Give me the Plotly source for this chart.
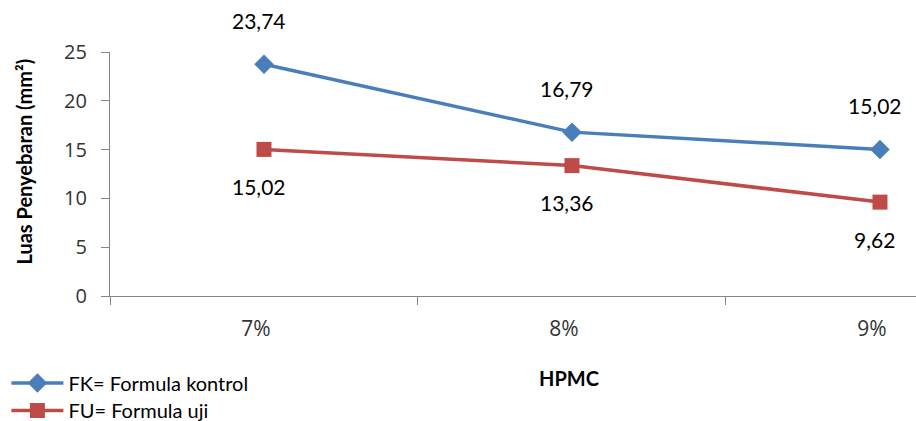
import plotly.graph_objects as go

# HPMC concentration levels and spreading area (mm^2)
categories = ["7%", "8%", "9%"]
fk_values = [23.74, 16.79, 15.02]   # FK = Formula kontrol
fu_values = [15.02, 13.36, 9.62]    # FU = Formula uji
y_ticks = [0, 5, 10, 15, 20, 25]

BLUE = "#4A7EBB"
RED = "#BE4B48"
AXIS = "#868686"
FONT = "Lato, 'Open Sans', sans-serif"
TICKFONT = "'Open Sans', sans-serif"


def fmt(v):
    return f"{v:.2f}".replace(".", ",")


fig = go.Figure()
fig.add_trace(go.Scatter(
    x=categories, y=fk_values, mode="lines+markers", name="FK= Formula kontrol",
    line=dict(color=BLUE, width=3.5),
    marker=dict(symbol="diamond", size=15, color=BLUE),
    legend="legend", cliponaxis=False,
))
fig.add_trace(go.Scatter(
    x=categories, y=fu_values, mode="lines+markers", name="FU= Formula uji",
    line=dict(color=RED, width=3.5),
    marker=dict(symbol="square", size=15, color=RED),
    legend="legend2", cliponaxis=False,
))

# value labels: control above its points, test formula below
for c, v in zip(categories, fk_values):
    fig.add_annotation(x=c, y=v, text=fmt(v), showarrow=False, yshift=44, xshift=-5,
                       font=dict(family=FONT, size=21, color="#000000"))
for c, v in zip(categories, fu_values):
    fig.add_annotation(x=c, y=v, text=fmt(v), showarrow=False, yshift=-37, xshift=-5,
                       font=dict(family=FONT, size=21, color="#000000"))

# axis titles
fig.add_annotation(xref="paper", yref="paper", x=-0.107, y=0.55, textangle=-90,
                   xanchor="center", yanchor="middle",
                   text="<b>Luas Penyebaran (mm²)</b>", showarrow=False,
                   font=dict(family=FONT, size=20, color="#000000"))
fig.add_annotation(xref="paper", yref="paper", x=0.569, y=-0.336,
                   xanchor="center", yanchor="middle",
                   text="<b>HPMC</b>", showarrow=False,
                   font=dict(family=FONT, size=20, color="#000000"))

legend_style = dict(xref="container", yref="container", xanchor="left", yanchor="middle",
                    itemwidth=52, font=dict(family=FONT, size=20, color="#000000"),
                    bgcolor="rgba(0,0,0,0)")

fig.update_layout(
    width=916, height=421,
    margin=dict(l=110, r=0, t=52, b=125, autoexpand=False),
    paper_bgcolor="white", plot_bgcolor="white",
    font=dict(family=FONT, color="#000000"),
    legend=dict(x=0.007, y=0.09, **legend_style),
    legend2=dict(x=0.007, y=0.025, **legend_style),
    showlegend=True,
)

fig.update_xaxes(
    type="category", categoryorder="array", categoryarray=categories,
    range=[-0.5, 2.117], tickson="boundaries",
    showline=True, linecolor=AXIS, linewidth=1.3,
    ticks="outside", ticklen=8, tickcolor=AXIS,
    showgrid=False, zeroline=False,
    tickfont=dict(family=TICKFONT, size=21, color="#333333"),
    ticklabelstandoff=14, ticklabelshift=-8,
)
fig.update_yaxes(
    range=[0, 25], tickvals=y_ticks,
    showline=True, linecolor=AXIS, linewidth=1.3,
    ticks="outside", ticklen=8, tickcolor=AXIS,
    showgrid=False, zeroline=False,
    tickfont=dict(family=TICKFONT, size=20, color="#333333"),
    ticklabelstandoff=10,
)

fig.write_html("out.html")
